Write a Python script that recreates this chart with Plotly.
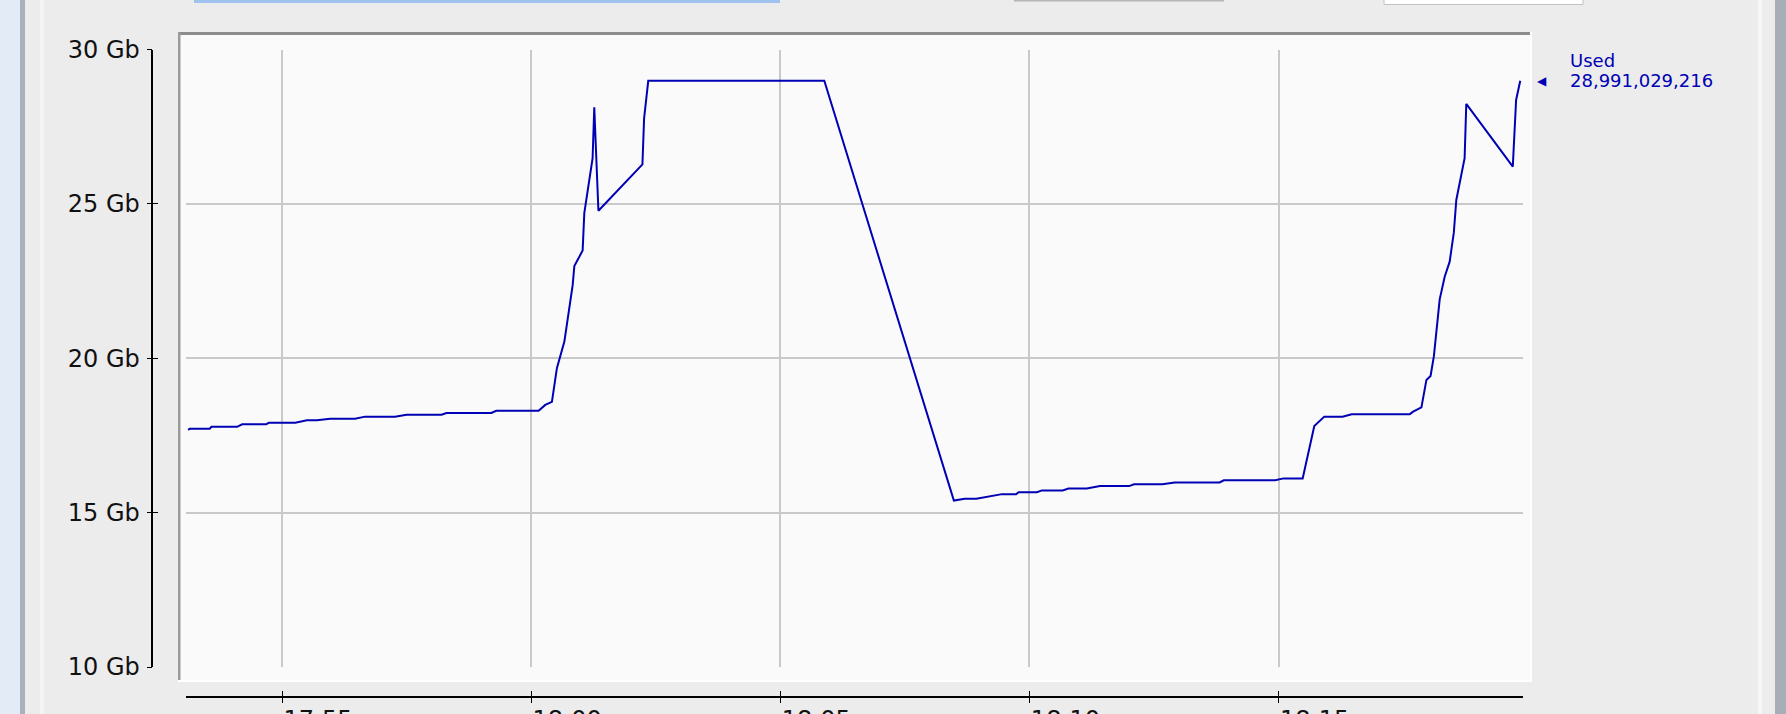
import plotly.graph_objects as go

# ---------------- data ----------------
DAY = "2024-01-01 "
times = [
    "17:53:07", "17:53:09", "17:53:33", "17:53:35", "17:54:06", "17:54:12", "17:54:41", "17:54:44",
    "17:55:16", "17:55:30", "17:55:42", "17:55:58", "17:56:28", "17:56:40", "17:57:16", "17:57:30",
    "17:58:12", "17:58:18", "17:59:12", "17:59:18", "18:00:09", "18:00:17", "18:00:25", "18:00:28",
    "18:00:31", "18:00:40", "18:00:50", "18:00:52", "18:01:02", "18:01:04", "18:01:09", "18:01:14",
    "18:01:16", "18:01:21", "18:02:14", "18:02:16", "18:02:21", "18:05:53", "18:08:29", "18:08:42",
    "18:08:56", "18:09:27", "18:09:44", "18:09:47", "18:10:09", "18:10:15", "18:10:40", "18:10:47",
    "18:11:09", "18:11:25", "18:12:00", "18:12:06", "18:12:40", "18:12:55", "18:13:49", "18:13:54",
    "18:14:56", "18:15:06", "18:15:29", "18:15:43", "18:15:55", "18:16:17", "18:16:28", "18:17:38",
    "18:17:42", "18:17:52", "18:17:58", "18:18:03", "18:18:07", "18:18:14", "18:18:20", "18:18:26",
    "18:18:31", "18:18:34", "18:18:44", "18:18:46", "18:19:42", "18:19:46", "18:19:51",
]
used_gb = [
    17.68, 17.72, 17.72, 17.78, 17.78, 17.86, 17.86, 17.91,
    17.91, 17.99, 17.99, 18.04, 18.04, 18.11, 18.11, 18.17,
    18.17, 18.23, 18.23, 18.30, 18.30, 18.49, 18.59, 19.19,
    19.68, 20.54, 22.37, 22.99, 23.49, 24.70, 25.56, 26.48,
    28.13, 24.78, 26.28, 27.77, 28.99, 28.99, 15.39, 15.45,
    15.45, 15.60, 15.60, 15.66, 15.66, 15.72, 15.72, 15.78,
    15.78, 15.86, 15.86, 15.92, 15.92, 15.98, 15.98, 16.05,
    16.05, 16.11, 16.11, 17.81, 18.11, 18.11, 18.19, 18.19,
    18.27, 18.41, 19.30, 19.43, 20.07, 21.91, 22.64, 23.13,
    24.07, 25.13, 26.48, 28.24, 26.21, 28.37, 28.99,
]
series_name = "Used"
last_used_bytes = 28991029216
y_ticks = [10, 15, 20, 25, 30]
y_tick_labels = ["10 Gb", "15 Gb", "20 Gb", "25 Gb", "30 Gb"]
x_range = ["17:53:04.4", "18:19:54.3"]
y_range = [10, 30]

# ---------------- layout helpers ----------------
W, H = 1786, 714
def px(x):
    return x / W
def py(y):
    return 1 - y / H

xs = [DAY + t for t in times]
xr = [DAY + t for t in x_range]

BLUE = "#0000b4"
FONT = "DejaVu Sans"

fig = go.Figure()
fig.add_trace(go.Scatter(x=xs, y=used_gb, mode="lines", name=series_name,
                         line=dict(color=BLUE, width=2), xaxis="x", yaxis="y",
                         hoverinfo="skip", showlegend=False))
# invisible traces to bind the extra (offset) axes
for ax, ay in (("x2", "y2"), ("x3", "y3")):
    fig.add_trace(go.Scatter(x=xs, y=used_gb, mode="lines", opacity=0,
                             line=dict(width=0.1), xaxis=ax, yaxis=ay,
                             hoverinfo="skip", showlegend=False))

xdom = [px(186), px(1523)]
ydom = [py(667), py(49.6)]
grid = "#c9c9c9"

common_x = dict(domain=xdom, range=xr, type="date", dtick=300000,
                tick0=DAY + "17:55:00", zeroline=False, automargin=False)
common_y = dict(domain=ydom, range=y_range, tickmode="array", tickvals=y_ticks,
                ticktext=y_tick_labels, zeroline=False, automargin=False)

fig.update_layout(
    template="none",
    width=W, height=H,
    margin=dict(l=0, r=0, t=0, b=0, pad=0, autoexpand=False),
    paper_bgcolor="#ececec",
    plot_bgcolor="rgba(0,0,0,0)",
    xaxis=dict(**common_x, anchor="y", showgrid=True, gridcolor=grid, gridwidth=1.5,
               showticklabels=False, showline=False, ticks=""),
    yaxis=dict(**common_y, anchor="x", showgrid=True, gridcolor=grid, gridwidth=1.5,
               showticklabels=False, showline=False, ticks=""),
    xaxis2=dict(**common_x, overlaying="x", anchor="free", position=py(696.7),
                showgrid=False, showline=True, linecolor="black", linewidth=1.5,
                ticks="inside", ticklen=5, tickwidth=1.3, tickcolor="black",
                tickformat="%H:%M", showticklabels=True, ticklabelstandoff=2,
                ticklabelshift=36,
                tickfont=dict(family=FONT, size=24, color="#111")),
    xaxis3=dict(**common_x, overlaying="x", anchor="free", position=py(696.7),
                showgrid=False, showline=False, ticks="outside", ticklen=5,
                tickwidth=1.3, tickcolor="black", showticklabels=False),
    yaxis2=dict(**common_y, overlaying="y", anchor="free", position=px(152.3), side="left",
                showgrid=False, showline=True, linecolor="black", linewidth=1.5,
                ticks="outside", ticklen=5, tickwidth=1.3, tickcolor="black",
                showticklabels=True, ticklabelstandoff=2,
                tickfont=dict(family=FONT, size=24, color="#111")),
    yaxis3=dict(**common_y, overlaying="y", anchor="free", position=px(152.3), side="left",
                showgrid=False, showline=False, ticks="inside", ticklen=5,
                tickwidth=1.3, tickcolor="black", showticklabels=False),
)

shapes = []
def rect(x0, y0, x1, y1, fill, line=None, lw=0):
    shapes.append(dict(type="rect", xref="paper", yref="paper",
                       x0=px(x0), x1=px(x1), y0=py(y1), y1=py(y0),
                       fillcolor=fill, line=dict(color=line or fill, width=lw), layer="below"))

# window chrome
rect(0, 0, 20, H, "#e2ebf6")
rect(20, 0, 25, H, "#a9b2bc")
rect(40, 0, 44, H, "#f4f4f4")
rect(1758, 0, 1762, H, "#f6f6f6")
rect(1775, 0, W, H, "#a6aeb8")
rect(194, 0, 780, 3, "#9fc3ee")
rect(1014, 0, 1224, 1.5, "#b5b5b5")
rect(1384, -5, 1583, 4.5, "#ffffff", "#c2c2c2", 1)
# chart panel with etched border
rect(180, 33, 1530, 681, "#fafafa")
rect(178, 32, 1530, 35, "#8c8c8c")
rect(178, 32, 180.5, 681, "#9a9a9a")
rect(178, 680, 1531, 682, "#ffffff")
rect(1530, 32, 1532, 682, "#ffffff")
fig.update_layout(shapes=shapes)

last_t, last_v = xs[-1], used_gb[-1]
fig.add_annotation(x=px(1542), xref="paper", y=last_v, yref="y", text="◀",
                   showarrow=False, xanchor="center", yanchor="middle",
                   font=dict(family=FONT, size=12, color=BLUE))
fig.add_annotation(x=px(1568), xref="paper", y=last_v, yref="y",
                   text=f"{last_used_bytes:,}", showarrow=False, xanchor="left",
                   yanchor="middle", font=dict(family=FONT, size=18, color=BLUE))
fig.add_annotation(x=px(1568), xref="paper", y=last_v, yref="y", yshift=20,
                   text=series_name, showarrow=False, xanchor="left",
                   yanchor="middle", font=dict(family=FONT, size=18, color=BLUE))

fig.write_html("out.html", config={"displayModeBar": False},
               post_script="document.body.style.margin='0';document.body.style.overflow='hidden';")
